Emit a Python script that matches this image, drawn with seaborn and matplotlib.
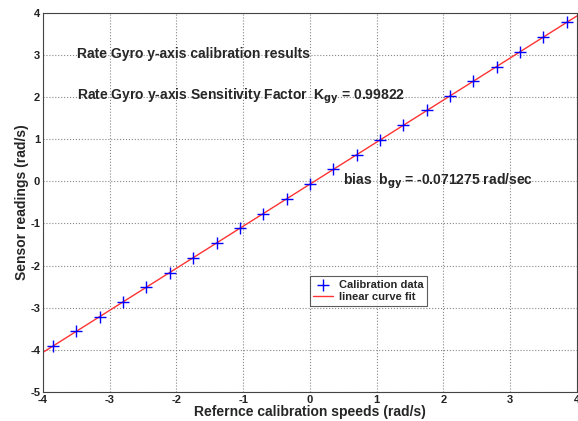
import matplotlib
matplotlib.use("Agg")
import matplotlib.pyplot as plt
import seaborn as sns
import pandas as pd

# Data
ref_speed = [-3.85, -3.50, -3.15, -2.80, -2.45, -2.10, -1.75, -1.40, -1.05, -0.70, -0.35, 0.00,
             0.35, 0.70, 1.05, 1.40, 1.75, 2.10, 2.45, 2.80, 3.15, 3.50, 3.85]
sensor_reading = [-3.91, -3.56, -3.21, -2.87, -2.52, -2.17, -1.82, -1.47, -1.12, -0.77, -0.42, -0.07,
                  0.28, 0.63, 0.98, 1.33, 1.68, 2.03, 2.38, 2.72, 3.07, 3.42, 3.77]
fit_x = [-4.0, 4.0]
fit_y = [-4.06, 3.92]
x_ticks = [-4, -3, -2, -1, 0, 1, 2, 3, 4]
y_ticks = [-5, -4, -3, -2, -1, 0, 1, 2, 3, 4]

sns.set_style("white")
plt.rcParams['font.family'] = ['Liberation Sans', 'DejaVu Sans']
plt.rcParams['font.weight'] = 'bold'

fig = plt.figure(figsize=(5.78, 4.21), dpi=100)
ax = fig.add_axes([0.0744, 0.069, 0.9236, 0.901])

df = pd.DataFrame({"x": ref_speed, "y": sensor_reading})
dfit = pd.DataFrame({"x": fit_x, "y": fit_y})

sns.scatterplot(data=df, x="x", y="y", ax=ax, marker="+", color="#0000ff", s=70,
                linewidth=1.0, label="Calibration data", zorder=3)
sns.lineplot(data=dfit, x="x", y="y", ax=ax, color="#ff3333", linewidth=1.0,
             label="linear curve fit", zorder=2)

ax.set_xlim(-4, 4)
ax.set_ylim(-5, 4)
ax.set_xticks(x_ticks)
ax.set_yticks(y_ticks)
ax.set_xticklabels([str(t) for t in x_ticks], fontsize=8, fontweight='bold')
ax.set_yticklabels([str(t) for t in y_ticks], fontsize=8, fontweight='bold')
ax.tick_params(direction='in', length=3, width=0.8, colors='#222222', pad=2)
ax.grid(True, linestyle=':', color='#888888', linewidth=0.8)
for s in ax.spines.values():
    s.set_color('#444444')
    s.set_linewidth(0.8)

ax.set_xlabel("Refernce calibration speeds (rad/s)", fontsize=10, fontweight='bold', labelpad=0)
ax.set_ylabel("Sensor readings (rad/s)", fontsize=10, fontweight='bold', labelpad=1)

ax.text(-3.49, 3.02, "Rate Gyro y-axis calibration results", fontsize=10, fontweight='bold',
        va='center', ha='left')
ax.text(-3.49, 2.02, r"Rate Gyro y-axis Sensitivity Factor  K$_{\mathbf{gy}}$ = 0.99822", fontsize=10,
        fontweight='bold', va='center', ha='left')
ax.text(0.49, 0.0, r"bias  b$_{\mathbf{gy}}$ = -0.071275 rad/sec", fontsize=10, fontweight='bold',
        va='center', ha='left')

leg = ax.legend(loc='upper left', bbox_to_anchor=(0.5, 0.305), fontsize=8, frameon=True,
                fancybox=False, edgecolor='#333333', borderpad=0.3, labelspacing=0.25,
                handlelength=1.8, handletextpad=0.5, borderaxespad=0)
leg.get_frame().set_linewidth(0.8)
for t in leg.get_texts():
    t.set_fontweight('bold')

fig.savefig("out.png", dpi=100)
